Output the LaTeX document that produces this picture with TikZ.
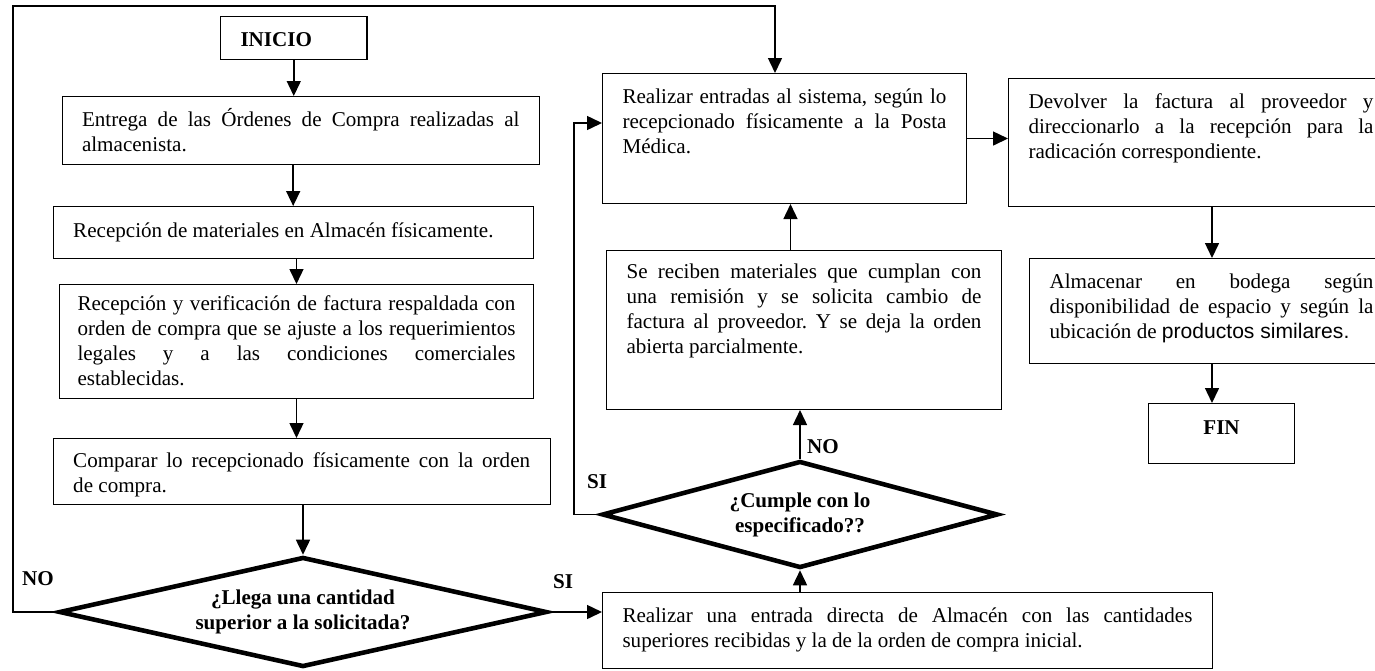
\documentclass[tikz,border=0pt]{standalone}
\usepackage{fontspec}
\setmainfont{Liberation Serif}
\newfontfamily\arial{Liberation Sans}
\usetikzlibrary{shapes.geometric, arrows.meta}
\frenchspacing

\begin{document}
\begin{tikzpicture}[x=0.02cm, y=-0.02cm,
    caja/.style={draw, line width=0.6pt, anchor=north west, align=justify,
        inner xsep=0.4cm, inner ysep=0pt, text height=0.6cm,
        font={\fontsize{12}{14.23}\selectfont\tolerance=9999\hyphenpenalty=10000}},
    terminal/.style={caja, font={\bfseries\fontsize{12}{14.23}\selectfont}},
    decision/.style={diamond, draw, line width=2.6pt, align=center, inner sep=0pt,
        font={\bfseries\fontsize{12}{14.23}\selectfont}},
    etiqueta/.style={font={\bfseries\fontsize{12}{14.23}\selectfont}, inner sep=0pt},
    flecha/.style={line width=0.85pt, -{Triangle[length=0.3cm, width=0.28cm]}}
]
    \path[use as bounding box, clip] (0,0) rectangle (1375,670);

    \node[terminal, align=left, text width=2.13cm, text depth=0.26cm] (inicio) at (220,16) {INICIO};
    \node[caja, text width=8.75cm, text depth=0.76cm] (b1) at (61.5,96)
        {Entrega de las Órdenes de Compra realizadas al\linebreak almacenista.};
    \node[caja, text width=8.8cm, text height=0.62cm, text depth=0.42cm] (b2) at (52.7,206)
        {Recepción de materiales en Almacén físicamente.};
    \node[caja, text width=8.76cm, inner xsep=0.36cm, text height=0.52cm, text depth=1.76cm] (b3) at (59,284)
        {Recepción y verificación de factura respaldada con\linebreak orden de compra que se ajuste a los requerimientos\linebreak legales y a las condiciones comerciales\linebreak establecidas.};
    \node[caja, text width=9.14cm, text height=0.58cm, text depth=0.74cm] (b4) at (52.7,438)
        {Comparar lo recepcionado físicamente con la orden\linebreak de compra.};
    \node[decision, aspect=4.4, minimum width=9.76cm, minimum height=2.2cm] (d1) at (303,612)
        {¿Llega una cantidad\\superior a la solicitada?};

    \node[caja, text width=6.48cm, text depth=2cm] (r1) at (602,73)
        {Realizar entradas al sistema, según lo\linebreak recepcionado físicamente a la Posta\linebreak Médica.};
    \node[caja, text width=7.1cm, text height=0.56cm, text depth=2.62cm] (s1) at (606,250)
        {Se reciben materiales que cumplan con\linebreak una remisión y se solicita cambio de\linebreak factura al proveedor. Y se deja la orden\linebreak abierta parcialmente.};
    \node[decision, aspect=3.7, minimum width=7.92cm, minimum height=2.14cm] (d2) at (800,514.5)
        {¿Cumple con lo\\especificado??};
    \node[caja, text width=11.4cm, text depth=0.92cm] (r2) at (602,592)
        {Realizar una entrada directa de Almacén con las cantidades\linebreak superiores recibidas y la de la orden de compra inicial.};

    \node[caja, text width=6.9cm, text depth=1.96cm] (dv) at (1008,78)
        {Devolver la factura al proveedor y\linebreak direccionarlo a la recepción para la\linebreak radicación correspondiente.};
    \node[caja, text width=6.48cm, text depth=1.5cm] (al) at (1029,258)
        {Almacenar en bodega según\linebreak disponibilidad de espacio y según la\linebreak ubicación de {\arial productos similares.}};
    \node[terminal, align=center, text width=2.12cm, text height=0.62cm, text depth=0.58cm] (fin) at (1148,403) {FIN};

    \node[etiqueta] (no1) at (38,579) {NO};
    \node[etiqueta] (si1) at (563,582) {SI};
    \node[etiqueta] (no2) at (823,447) {NO};
    \node[etiqueta] (si2) at (597,482) {SI};

    \coordinate (esqa) at (13,6);
    \coordinate (esqb) at (775,6);
    \coordinate (esqc) at (574,123);
    \coordinate (ejed) at (1212,0);

    \draw[flecha] (inicio.south) -- (inicio.south |- b1.north);
    \draw[flecha] (b2.north |- b1.south) -- (b2.north);
    \draw[flecha] (b3.north |- b2.south) -- (b3.north);
    \draw[flecha] (b3.south) -- (b3.south |- b4.north);
    \draw[flecha] (d1.north |- b4.south) -- (d1.north);
    \draw[flecha] (d1.west) -| (esqa) -- (esqb) -- (esqb |- r1.north);
    \draw[flecha] (d1.east) -- (d1.east -| r2.west);
    \draw[flecha] (d2.south |- r2.north) -- (d2.south);
    \draw[flecha] (d2.north) -- (d2.north |- s1.south);
    \draw[flecha] (d2.west) -| (esqc) -- (esqc -| r1.west);
    \draw[flecha] ([xshift=-0.27cm]s1.north) -- ([xshift=-0.27cm]s1.north |- r1.south);
    \draw[flecha] (r1.east) -- (r1.east -| dv.west);
    \draw[flecha] (dv.south -| ejed) -- (al.north -| ejed);
    \draw[flecha] (al.south -| ejed) -- (fin.north -| ejed);
\end{tikzpicture}
\end{document}
